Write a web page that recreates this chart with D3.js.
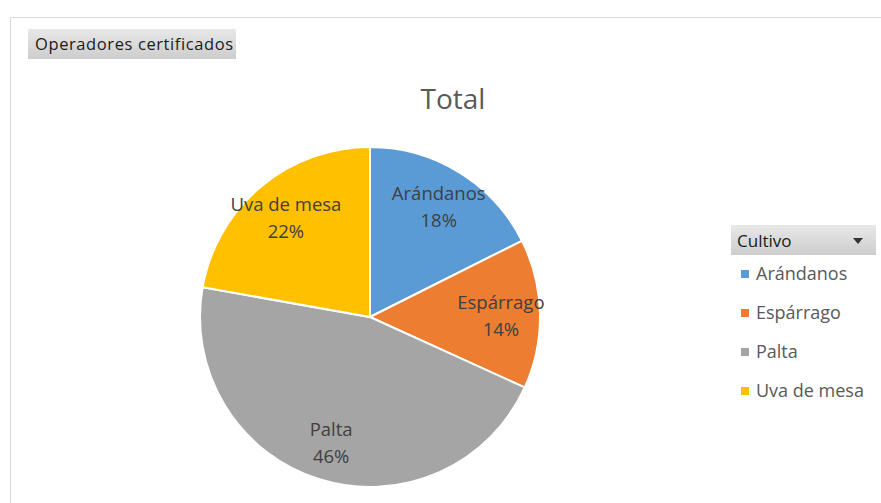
<!DOCTYPE html>
<html><head><meta charset="utf-8">
<script src="https://cdn.jsdelivr.net/npm/d3@7"></script>
<style>
html,body{margin:0;padding:0;background:#fff;}
svg{display:block;font-family:"Open Sans",Lato,sans-serif;}
</style></head>
<body>
<svg id="chart" width="881" height="503"></svg>
<script>
const categories = ["Arándanos", "Espárrago", "Palta", "Uva de mesa"];
const values = [17.6, 14.2, 46.0, 22.2];
const colors = ["#5B9BD5", "#ED7D31", "#A5A5A5", "#FFC000"];
const chartTitle = "Total";
const fieldButton = "Operadores certificados";
const legendTitle = "Cultivo";

const svg = d3.select("#chart");
const W = 881, H = 503;

svg.append("path").attr("d", `M10.5,${H} V17.5 H${W}`)
  .attr("fill","none").attr("stroke","#d9d9d9").attr("stroke-width",1);

const defs = svg.append("defs");
const g1 = defs.append("linearGradient").attr("id","btn").attr("x1",0).attr("y1",0).attr("x2",0).attr("y2",1);
g1.append("stop").attr("offset","0%").attr("stop-color","#e8e8e8");
g1.append("stop").attr("offset","100%").attr("stop-color","#cdcdcd");

svg.append("rect").attr("x",28).attr("y",29).attr("width",208).attr("height",30).attr("fill","url(#btn)");
svg.append("text").attr("x",35).attr("y",50).attr("font-size",16.5).attr("letter-spacing",0.6).attr("fill","#1a1a1a").text(fieldButton);

svg.append("text").attr("x",453).attr("y",109).attr("text-anchor","middle")
  .attr("font-size",28).attr("fill","#595959").text(chartTitle);

const cx = 370, cy = 317, R = 170;
const total = d3.sum(values);
const pie = d3.pie().sort(null).value(d => d.v);
const data = pie(categories.map((c,i)=>({c, v: values[i], col: colors[i]})));
const arc = d3.arc().innerRadius(0).outerRadius(R);
const labelArc = d3.arc().innerRadius(R*0.77).outerRadius(R*0.77);
const gp = svg.append("g").attr("transform",`translate(${cx},${cy})`);
gp.selectAll("path").data(data).join("path")
  .attr("d",arc).attr("fill",d=>d.data.col).attr("stroke","#fff").attr("stroke-width",2);

const lab = gp.selectAll("text.lab").data(data).join("text").attr("class","lab")
  .attr("text-anchor","middle").attr("font-size",18.5).attr("fill","#404040")
  .attr("transform",d=>{const [x,y]=labelArc.centroid(d); return `translate(${x},${y-2})`;});
lab.append("tspan").attr("x",0).attr("dy","-0.2em").text(d=>d.data.c);
lab.append("tspan").attr("x",0).attr("dy","1.45em").text(d=>Math.round(d.data.v/total*100)+"%");

const lg = svg.append("g");
lg.append("rect").attr("x",731).attr("y",225).attr("width",145).attr("height",30).attr("fill","url(#btn)");
lg.append("text").attr("x",737).attr("y",247).attr("font-size",17).attr("fill","#1a1a1a").text(legendTitle);
lg.append("path").attr("d","M853,238 h10 l-5,6 z").attr("fill","#333");
const ly = d3.scalePoint().domain(categories).range([274,391]);
const li = lg.selectAll("g.it").data(categories).join("g").attr("class","it")
  .attr("transform",d=>`translate(741,${ly(d)})`);
li.append("rect").attr("x",0).attr("y",-4).attr("width",8).attr("height",8).attr("fill",(d,i)=>colors[i]);
li.append("text").attr("x",15).attr("y",6).attr("font-size",18).attr("fill","#595959").text(d=>d);
</script>
</body></html>
